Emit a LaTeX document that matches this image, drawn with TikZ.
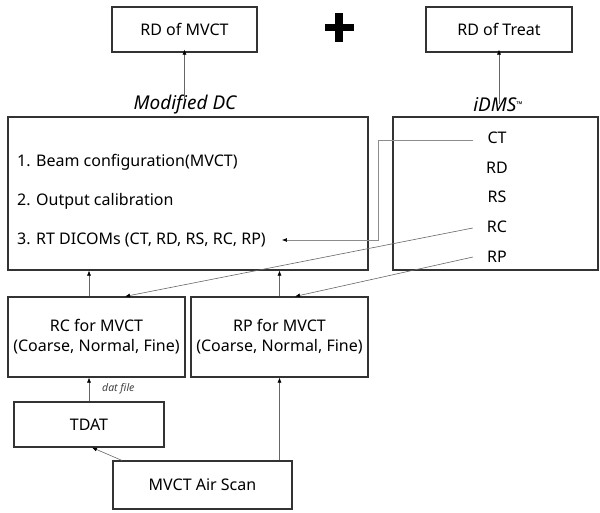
\documentclass[tikz,border=0pt]{standalone}
\usepackage{fontspec}
\setmainfont{Noto Sans}
\usetikzlibrary{arrows.meta,calc}
\tikzset{
  blk/.style={draw=black!80, line width=1.1pt, inner sep=0pt, align=center,
    font=\fontsize{16}{20}\selectfont},
  itm/.style={inner sep=0pt, font=\fontsize{16}{20}\selectfont},
  ttl/.style={inner sep=0pt, font=\fontsize{19}{22}\selectfont\itshape},
  conn/.style={draw=black!60, line width=0.6pt},
  arr/.style={conn, -{Latex[length=5pt,width=4pt,color=black]}}
}
\begin{document}
\begin{tikzpicture}[x=1pt,y=-1pt]
\useasboundingbox (0,0) rectangle (600,512);

% result boxes on top
\node[blk, minimum width=145pt, minimum height=45pt] (rdm) at (184.5,29.5) {RD of MVCT};
\node[blk, minimum width=146pt, minimum height=45pt] (rdt) at (499,29.5) {RD of Treat};
% plus sign between the two results
\fill[black] (324.5,23.5) rectangle (353.5,31);
\fill[black] (335.3,12.5) rectangle (342.7,41.5);

% the two programs
\node[ttl] (dclbl) at (185,105) {Modified DC};
\node[ttl] (idlbl) at (498,105) {iDMS\raisebox{4pt}{\fontsize{8}{8}\selectfont\upshape ™}};
\node[blk, minimum width=360pt, minimum height=153pt] (dc) at (188,193.5) {};
\node[blk, minimum width=205pt, minimum height=153pt] (idms) at (495.5,193.5) {};

\node[itm, anchor=west] (i1) at (17,162) {1. Beam configuration(MVCT)};
\node[itm, anchor=west] (i2) at (17,201) {2. Output calibration};
\node[itm, anchor=west] (i3) at (17,240) {3. RT DICOMs (CT, RD, RS, RC, RP)};

\node[itm] (ct) at (497,138) {CT};
\node[itm] (rd) at (497,168) {RD};
\node[itm] (rs) at (497,197) {RS};
\node[itm] (rc) at (497,227) {RC};
\node[itm] (rp) at (497,257) {RP};

% inputs
\node[blk, minimum width=177pt, minimum height=80pt] (rcbox) at (96.5,337) {RC for MVCT\\(Coarse, Normal, Fine)};
\node[blk, minimum width=177pt, minimum height=80pt] (rpbox) at (279.5,337) {RP for MVCT\\(Coarse, Normal, Fine)};
\node[blk, minimum width=150pt, minimum height=45pt] (tdat) at (89,424.5) {TDAT};
\node[blk, minimum width=179pt, minimum height=48pt] (air) at (202.5,485) {MVCT Air Scan};

% connectors
\draw[arr] ([yshift=-6pt]dclbl.north -| rdm.south) -- ([yshift=3pt]rdm.south);
\draw[arr] ([yshift=-6pt]idlbl.north -| rdt.south) -- ([yshift=3pt]rdt.south);

\coordinate (bend) at (378,240);
\draw[arr, draw=black!45] ([xshift=-14pt,yshift=-2pt]ct.west) -| (bend) -- ([xshift=16pt]i3.east);
\draw[arr] ([xshift=-14pt,yshift=-1pt]rc.west) -- ([xshift=28.5pt]rcbox.north);
\draw[arr] ([xshift=-14pt]rp.west) -- ([xshift=15.5pt]rpbox.north);

\draw[arr] (rcbox.north -| tdat.north) -- (tdat.north |- dc.south);
\draw[arr] (rpbox.north) -- (rpbox.north |- dc.south);

\draw[arr] (tdat.north) -- (tdat.north |- rcbox.south);
\node[anchor=west, inner sep=0pt, text=black!75, font=\fontsize{10.5}{12}\selectfont\itshape] (dat) at (102,389) {dat file};

\draw[arr] ([xshift=-80.5pt]air.north) -- ([xshift=3pt]tdat.south);
\draw[arr] (air.north -| rpbox.south) -- (rpbox.south);
\end{tikzpicture}
\end{document}
